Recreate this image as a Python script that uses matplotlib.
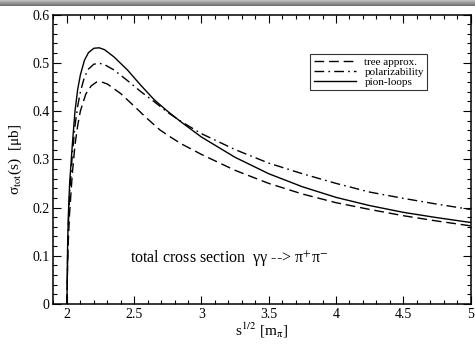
import numpy as np
import matplotlib
matplotlib.use("Agg")
import matplotlib.pyplot as plt
from matplotlib.ticker import MultipleLocator

plt.rcParams["font.family"] = ["Liberation Serif", "DejaVu Serif"]
plt.rcParams["mathtext.fontset"] = "stix"

# sqrt(s) in units of m_pi
x_loops = [2.0, 2.005, 2.01, 2.02, 2.04, 2.06, 2.08, 2.10, 2.13, 2.16, 2.20, 2.24,
           2.28, 2.35, 2.45, 2.55, 2.65, 2.75, 2.85, 3.0, 3.25, 3.5, 3.75, 4.0,
           4.25, 4.5, 4.75, 5.0]
pion_loops = [0.0, 0.12, 0.18, 0.25, 0.33, 0.40, 0.445, 0.475, 0.505, 0.521, 0.530, 0.531,
              0.527, 0.512, 0.485, 0.453, 0.423, 0.399, 0.377, 0.346, 0.304, 0.270, 0.243, 0.221,
              0.204, 0.190, 0.179, 0.169]

x_pol = [2.0, 2.005, 2.01, 2.02, 2.04, 2.06, 2.08, 2.10, 2.13, 2.16, 2.20, 2.24,
         2.28, 2.35, 2.45, 2.55, 2.65, 2.75, 2.85, 3.0, 3.25, 3.5, 3.75, 4.0,
         4.25, 4.5, 4.75, 5.0]
polarizability = [0.0, 0.10, 0.16, 0.23, 0.31, 0.37, 0.41, 0.44, 0.47, 0.487, 0.497, 0.499,
                  0.496, 0.485, 0.463, 0.440, 0.419, 0.397, 0.378, 0.353, 0.320, 0.292, 0.270, 0.250,
                  0.232, 0.219, 0.207, 0.196]

x_tree = [2.0, 2.005, 2.01, 2.02, 2.04, 2.06, 2.08, 2.10, 2.14, 2.18, 2.22, 2.26,
          2.30, 2.40, 2.50, 2.59, 2.69, 2.77, 2.85, 3.0, 3.25, 3.5, 3.75, 4.0,
          4.25, 4.5, 4.75, 5.0]
tree = [0.0, 0.08, 0.13, 0.19, 0.27, 0.33, 0.37, 0.40, 0.435, 0.452, 0.460, 0.460,
        0.456, 0.436, 0.410, 0.386, 0.361, 0.346, 0.332, 0.310, 0.277, 0.250, 0.228, 0.210,
        0.196, 0.183, 0.172, 0.162]

fig = plt.figure(figsize=(4.75, 3.47), dpi=100)
ax = fig.add_axes([0.1126, 0.1239, 0.878, 0.8343])

# grey band along the top edge of the screenshot
band = fig.add_axes([0, 0.983, 1, 0.017])
grad = np.linspace(0, 1, 20).reshape(-1, 1)
band.imshow(grad, aspect="auto", cmap="Greys", vmin=-1.2, vmax=2.2,
            extent=[0, 1, 0, 1])
band.axis("off")

ax.plot(x_tree, tree, color="black", lw=1.0, ls=(0, (7, 3.5)), label="tree approx.")
ax.plot(x_pol, polarizability, color="black", lw=1.0, ls=(0, (7, 3, 1.2, 3)),
        label="polarizability")
ax.plot(x_loops, pion_loops, color="black", lw=1.0, label="pion-loops")

ax.set_xlim(1.9, 5.0)
ax.set_ylim(0, 0.6)
ax.xaxis.set_minor_locator(MultipleLocator(0.1))
ax.yaxis.set_minor_locator(MultipleLocator(0.02))
ax.set_xticks([2, 2.5, 3, 3.5, 4, 4.5, 5])
ax.set_xticklabels(["2", "2.5", "3", "3.5", "4", "4.5", "5"])
ax.set_yticks([0, 0.1, 0.2, 0.3, 0.4, 0.5, 0.6])
ax.set_yticklabels(["0", "0.1", "0.2", "0.3", "0.4", "0.5", "0.6"])
ax.tick_params(which="both", direction="in", top=True, right=True, width=0.8,
               labelsize=10)
ax.tick_params(which="major", length=6, pad=3)
ax.tick_params(which="minor", length=3)
for s in ax.spines.values():
    s.set_linewidth(1.1)

ax.set_xlabel(r"s$^{1/2}$ [m$_{\mathrm{\pi}}$]", fontsize=11, labelpad=0)
ax.set_ylabel("σ$_{\\rm tot}$(s)  [μb]", fontsize=11, labelpad=6)

ax.text(2.47, 0.095, "total cross section  γγ --> π$^{+}$π$^{-}$",
        fontsize=11.5, va="center", ha="left")

leg = ax.legend(loc="upper right", bbox_to_anchor=(0.896, 0.864), borderaxespad=0,
                fontsize=8, handlelength=3.8, handletextpad=0.75, labelspacing=0.0,
                frameon=True, fancybox=False, edgecolor="black", borderpad=0.3)
leg.get_frame().set_linewidth(0.8)

fig.savefig("out.png", dpi=100)
